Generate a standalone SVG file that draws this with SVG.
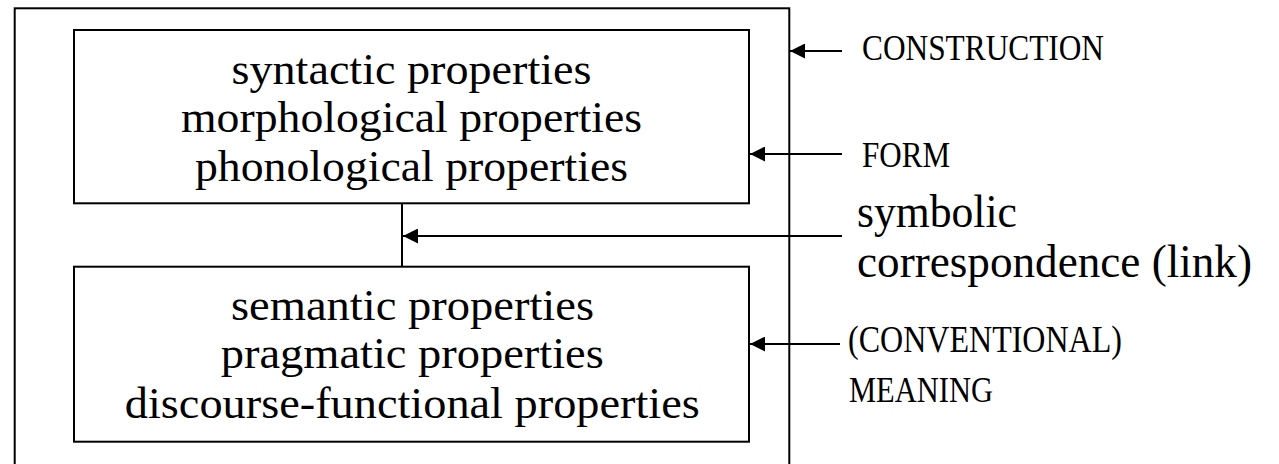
<svg xmlns="http://www.w3.org/2000/svg" width="1279" height="464" viewBox="0 0 1279 464">
  <defs>
    <marker id="ah" markerWidth="15" markerHeight="15" refX="15" refY="7.5" orient="auto" markerUnits="userSpaceOnUse">
      <path d="M0,0 L15,7.5 L0,15 Z" fill="#000"/>
    </marker>
    <style>
      .box { fill: #fff; stroke: #000; stroke-width: 2; }
      .conn { stroke: #000; stroke-width: 2; fill: none; }
      .t { font-family: "Liberation Serif", "Times New Roman", serif; fill: #000; }
      .big { font-size: 44px; }
      .cap { font-size: 35px; }
      .lab { font-size: 46px; }
    </style>
  </defs>
  <rect width="1279" height="464" fill="#fff"/>

  <g id="construction">
    <rect class="box" x="14.7" y="8.3" width="774.6" height="470"/>
  </g>

  <g id="form">
    <rect class="box" x="74" y="30" width="675" height="173.3"/>
    <text class="t big" x="411.5" y="84" text-anchor="middle" textLength="360" lengthAdjust="spacingAndGlyphs">syntactic properties</text>
    <text class="t big" x="411.5" y="132" text-anchor="middle" textLength="461" lengthAdjust="spacingAndGlyphs">morphological properties</text>
    <text class="t big" x="411.5" y="181" text-anchor="middle" textLength="433" lengthAdjust="spacingAndGlyphs">phonological properties</text>
  </g>

  <g id="meaning">
    <rect class="box" x="74" y="266.7" width="675" height="175"/>
    <text class="t big" x="412.5" y="320" text-anchor="middle" textLength="363" lengthAdjust="spacingAndGlyphs">semantic properties</text>
    <text class="t big" x="412.3" y="368" text-anchor="middle" textLength="383" lengthAdjust="spacingAndGlyphs">pragmatic properties</text>
    <text class="t big" x="412.3" y="418" text-anchor="middle" textLength="575" lengthAdjust="spacingAndGlyphs">discourse-functional properties</text>
  </g>

  <g id="label-construction">
    <text class="t cap" x="862" y="60" textLength="242" lengthAdjust="spacingAndGlyphs">CONSTRUCTION</text>
  </g>
  <g id="label-form">
    <text class="t cap" x="862" y="167" textLength="88" lengthAdjust="spacingAndGlyphs">FORM</text>
  </g>
  <g id="label-link">
    <text class="t lab" x="857" y="227" textLength="160" lengthAdjust="spacingAndGlyphs">symbolic</text>
    <text class="t lab" x="857" y="277" textLength="395" lengthAdjust="spacingAndGlyphs">correspondence (link)</text>
  </g>
  <g id="label-meaning">
    <text class="t" x="848" y="352" font-size="37" textLength="274" lengthAdjust="spacingAndGlyphs">(CONVENTIONAL)</text>
    <text class="t cap" x="849" y="402" textLength="144" lengthAdjust="spacingAndGlyphs">MEANING</text>
  </g>

  <g id="connectors">
    <line class="conn" x1="402" y1="203.3" x2="402" y2="266.7"/>
    <line class="conn" x1="842" y1="51" x2="790" y2="51" marker-end="url(#ah)"/>
    <line class="conn" x1="842" y1="154" x2="750" y2="154" marker-end="url(#ah)"/>
    <line class="conn" x1="842" y1="236" x2="403" y2="236" marker-end="url(#ah)"/>
    <line class="conn" x1="840" y1="344" x2="750" y2="344" marker-end="url(#ah)"/>
  </g>
</svg>
